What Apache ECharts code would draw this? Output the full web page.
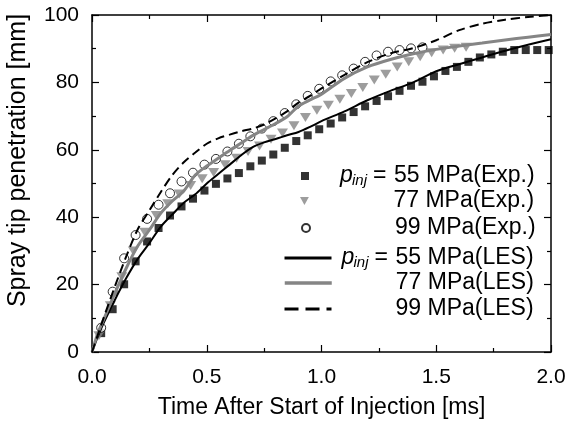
<!DOCTYPE html>
<html><head><meta charset="utf-8">
<script src="https://cdn.jsdelivr.net/npm/echarts@6/dist/echarts.min.js"></script>
<style>html,body{margin:0;padding:0;background:#fff}#c{width:571px;height:425px}</style>
</head><body><div id="c"></div>
<script>
// ---- Experimental data ----
const expTime55 = [0.04,0.09,0.14,0.19,0.24,0.29,0.34,0.39,0.44,0.49,0.54,0.59,0.64,0.69,0.74,0.79,0.84,0.89,0.94,0.99,1.04,1.09,1.14,1.19,1.24,1.29,1.34,1.39,1.44,1.49,1.54,1.59,1.64,1.69,1.74,1.79,1.84,1.89,1.94,1.99];
const exp55 = [5.6,12.7,20.1,26.9,32.8,36.8,40.5,43.2,45.5,47.9,49.9,51.5,53.1,55.1,56.8,58.6,60.6,62.6,64.3,66.1,67.8,69.6,71.2,72.9,74.5,75.9,77.5,79.0,80.2,81.8,83.4,84.6,86.1,87.4,88.3,89.1,89.6,89.6,89.6,89.6];
const expTime77 = [0.03,0.08,0.13,0.18,0.23,0.28,0.33,0.38,0.43,0.48,0.53,0.58,0.63,0.68,0.73,0.78,0.83,0.88,0.93,0.98,1.03,1.08,1.13,1.18,1.23,1.28,1.33,1.38,1.43,1.48,1.53,1.58,1.63];
const exp77 = [4.8,13.7,22.3,30.0,35.5,40.5,44.0,46.9,49.4,51.4,53.3,55.6,57.5,59.5,61.1,63.1,65.0,67.1,69.6,71.7,73.2,75.0,76.7,78.5,80.7,82.4,84.6,86.1,87.6,88.8,89.6,90.1,90.4];
const expTime99 = [0.04,0.09,0.14,0.19,0.24,0.29,0.34,0.39,0.44,0.49,0.54,0.59,0.64,0.69,0.74,0.79,0.84,0.89,0.94,0.99,1.04,1.09,1.14,1.19,1.24,1.29,1.34,1.39,1.44];
const exp99 = [7.2,17.9,27.8,34.7,39.5,43.7,47.1,50.6,53.2,55.6,57.3,59.5,61.8,64.0,66.3,68.5,70.9,73.5,76.0,78.1,80.3,82.1,84.1,86.1,88.0,89.1,89.6,90.1,90.4];
// ---- LES data ----
const lesTime = [0,0.025,0.05,0.1,0.15,0.2,0.25,0.3,0.35,0.4,0.45,0.5,0.55,0.6,0.65,0.7,0.75,0.8,0.85,0.9,0.95,1.0,1.1,1.2,1.3,1.4,1.5,1.6,1.7,1.8,1.9,2.0];
const les55 = [0,4.5,8.5,15.5,22,27.7,32.3,37.2,40.8,44.3,46.8,50.0,52.8,55.6,58.4,60.8,62.2,63.2,64.3,65.3,66.8,68.5,71.4,74.7,77.5,80.0,83.3,85.4,87.4,89.4,91.2,92.8];
const les77 = [0,5.5,9.5,17.5,25,31.5,36.2,41.2,44.8,47.8,52.5,55.2,57.5,59.8,62.0,64.2,66.0,67.8,69.8,73.0,74.8,76.5,81.2,84.6,86.8,88.5,89.8,90.8,91.7,92.6,93.4,94.2];
const les99 = [0,5,10,19.5,28.5,36.5,42,47.5,52.5,56.3,59.2,61.8,63.4,64.5,65.5,66.3,67.5,69.3,71.4,74.0,76.0,78.2,82.2,86.0,88.6,90.2,92.5,95.5,97.4,98.6,99.4,100];
// ---- labels ----
const seriesNames = ['55 MPa(Exp.)','77 MPa(Exp.)','99 MPa(Exp.)','55 MPa(LES)','77 MPa(LES)','99 MPa(LES)'];
const withPrefix = [true,false,false,true,false,false];
const xTitle = 'Time After Start of Injection [ms]';
const yTitle = 'Spray tip penetration [mm]';

const pair = (t, v) => t.map((x, i) => [x, v[i]]);
const FONT = 'Liberation Sans, Arial, Helvetica, sans-serif';
const GRAY = '#858585';

function axisCommon() {
  return {
    axisLine: { show: true, onZero: false, lineStyle: { color: '#000', width: 1.5 } },
    axisTick: { show: true, inside: true, length: 7, lineStyle: { color: '#000', width: 1.2 } },
    minorTick: { show: true, splitNumber: 2, length: 4, lineStyle: { color: '#000', width: 1.2 } },
    splitLine: { show: false }, minorSplitLine: { show: false }
  };
}

const legendRows = [
  { top: 164, left: 301, w: 8, h: 8, sp: 26, icon: 'rect' },
  { top: 189, left: 300, w: 10, h: 8, sp: 25, icon: 'path://M0,0L10,0L5,9Z' },
  { top: 216, left: 301, w: 8, h: 8, sp: 26, icon: 'circle' },
  { top: 246, left: 283, w: 47, h: 2, sp: 5, line: { color: '#000', width: 3, type: 'solid' } },
  { top: 271, left: 283, w: 47, h: 2, sp: 5, line: { color: GRAY, width: 3.5, type: 'solid' } },
  { top: 297, left: 283, w: 47, h: 2, sp: 5, line: { color: '#000', width: 3, type: [14, 7] } }
];

const legends = seriesNames.map((name, i) => {
  const r = legendRows[i];
  const item = { name: name };
  if (r.icon) item.icon = r.icon;
  const lg = {
    show: true, orient: 'vertical', left: r.left, top: r.top, padding: 0,
    itemWidth: r.w, itemHeight: r.h, selectedMode: false,
    data: [item],
    formatter: (n) => withPrefix[i]
      ? '{sp| }{p|p}{s|inj}{e|=}' + n
      : '{sp| }{g| }' + n,
    textStyle: {
      fontFamily: FONT, fontSize: 23, color: '#000', lineHeight: 24,
      rich: {
        sp: { width: r.sp, fontSize: 22, lineHeight: 24 },
        g: { width: 54, fontSize: 22, lineHeight: 24 },
        p: { width: 12, fontSize: 23, fontStyle: 'italic', lineHeight: 24, fontFamily: FONT },
        s: { width: 21, fontSize: 15, fontStyle: 'italic', lineHeight: 16, verticalAlign: 'bottom', fontFamily: FONT },
        e: { width: 21, fontSize: 23, lineHeight: 24, fontFamily: FONT }
      }
    }
  };
  if (r.line) {
    lg.lineStyle = r.line;
    lg.itemStyle = { opacity: 0 };
  }
  return lg;
});

const option = {
  animation: false,
  backgroundColor: '#fff',
  textStyle: { fontFamily: FONT },
  grid: { left: 92, right: 20, top: 15, bottom: 73, containLabel: false, outerBoundsMode: 'none' },
  legend: legends,
  xAxis: [
    Object.assign(axisCommon(), {
      type: 'value', min: 0, max: 2, interval: 0.5, position: 'bottom',
      axisLabel: { formatter: v => v.toFixed(1), margin: 15, fontSize: 21, color: '#000', fontFamily: FONT },
      name: xTitle, nameLocation: 'middle', nameGap: 44,
      nameTextStyle: { fontSize: 23, color: '#000', fontFamily: FONT }
    }),
    Object.assign(axisCommon(), {
      type: 'value', min: 0, max: 2, interval: 0.5, position: 'top',
      axisLabel: { show: false }
    })
  ],
  yAxis: [
    Object.assign(axisCommon(), {
      type: 'value', min: 0, max: 100, interval: 20, position: 'left',
      axisLabel: { margin: 13, fontSize: 21, color: '#000', fontFamily: FONT },
      name: yTitle, nameLocation: 'middle', nameGap: 61,
      nameTextStyle: { fontSize: 25, color: '#000', fontFamily: FONT, padding: [0, 0, 0, 46] }
    }),
    Object.assign(axisCommon(), {
      type: 'value', min: 0, max: 100, interval: 20, position: 'right',
      axisLabel: { show: false }
    })
  ],
  series: [
    { name: seriesNames[0], type: 'scatter', symbol: 'rect', symbolSize: 8,
      itemStyle: { color: '#000' }, data: pair(expTime55, exp55), z: 2 },
    { name: seriesNames[1], type: 'scatter', symbol: 'triangle', symbolRotate: 180, symbolSize: [11, 9],
      itemStyle: { color: GRAY }, data: pair(expTime77, exp77), z: 2 },
    { name: seriesNames[2], type: 'scatter', symbol: 'circle', symbolSize: 9,
      itemStyle: { color: '#fff', borderColor: '#000', borderWidth: 1 }, data: pair(expTime99, exp99), z: 2 },
    { name: seriesNames[3], type: 'line', symbol: 'none', smooth: 0.3,
      lineStyle: { color: '#000', width: 2 }, itemStyle: { color: '#000' }, data: pair(lesTime, les55), z: 3 },
    { name: seriesNames[4], type: 'line', symbol: 'none', smooth: 0.3,
      lineStyle: { color: GRAY, width: 3 }, itemStyle: { color: GRAY }, data: pair(lesTime, les77), z: 3 },
    { name: seriesNames[5], type: 'line', symbol: 'none', smooth: 0.3,
      lineStyle: { color: '#000', width: 2, type: [9, 5] }, itemStyle: { color: '#000' }, data: pair(lesTime, les99), z: 3 }
  ]
};

const chart = echarts.init(document.getElementById('c'), null, { renderer: 'canvas' });
chart.setOption(option);
</script>
</body></html>
